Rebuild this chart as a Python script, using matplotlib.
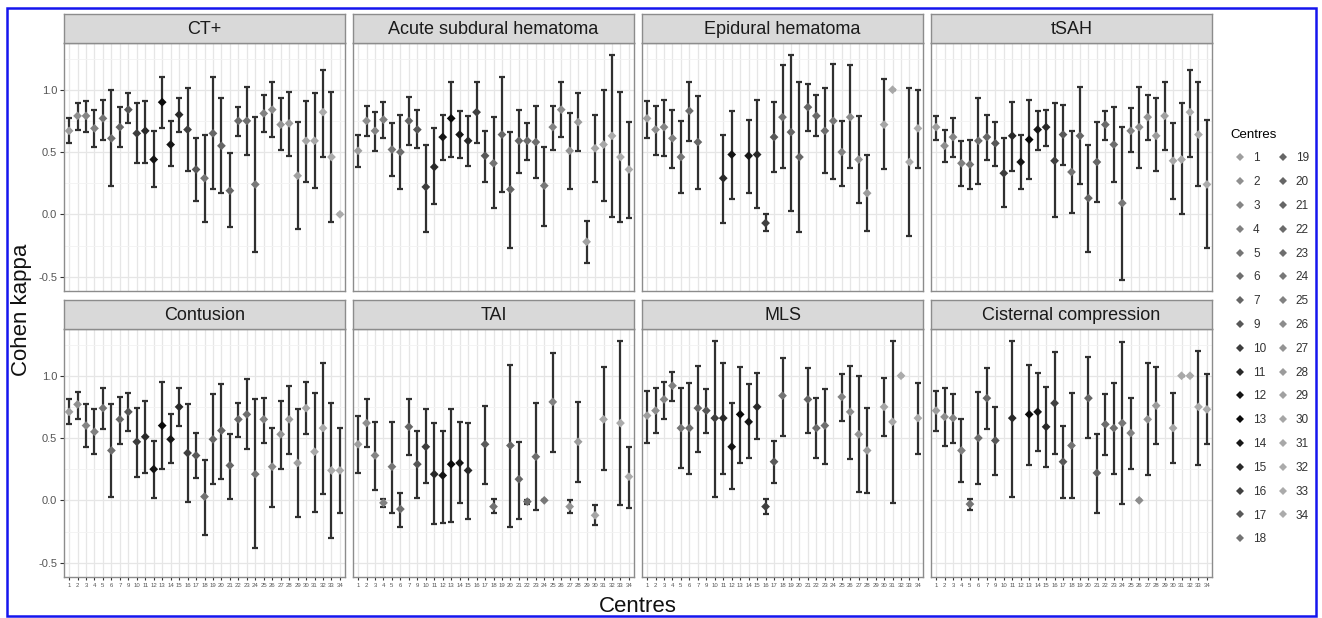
import numpy as np
import matplotlib
matplotlib.use("Agg")
import matplotlib.pyplot as plt
from matplotlib.lines import Line2D
from matplotlib.patches import Rectangle

plt.rcParams['font.family'] = ['Liberation Sans', 'DejaVu Sans']

nan = np.nan
centres = ['1', '2', '3', '4', '5', '6', '7', '9', '10', '11', '12', '13', '14', '15', '16', '17',
           '18', '19', '20', '21', '22', '23', '24', '25', '26', '27', '28', '29', '30', '31',
           '32', '33', '34']
centre_greys = [0.62, 0.56, 0.52, 0.50, 0.46, 0.43, 0.40, 0.34, 0.24, 0.16, 0.08, 0.04, 0.09, 0.16,
                0.25, 0.35, 0.45, 0.40, 0.40, 0.40, 0.42, 0.43, 0.47, 0.51, 0.55, 0.58, 0.61,
                0.63, 0.65, 0.66, 0.67, 0.67, 0.67]

titles = ['CT+', 'Acute subdural hematoma', 'Epidural hematoma', 'tSAH',
          'Contusion', 'TAI', 'MLS', 'Cisternal compression']

ct_est = [0.67, 0.79, 0.79, 0.69, 0.77, 0.61, 0.70, 0.84, 0.65, 0.67, 0.44, 0.90, 0.56, 0.80, 0.68, 0.36, 0.29,
          0.65, 0.55, 0.19, 0.75, 0.75, 0.24, 0.81, 0.84, 0.72, 0.73, 0.31, 0.59, 0.59, 0.82, 0.46, 0.0]
ct_lo = [0.57, 0.68, 0.66, 0.54, 0.60, 0.23, 0.54, 0.73, 0.41, 0.41, 0.22, 0.69, 0.39, 0.66, 0.35, 0.11, -0.06,
         0.20, 0.17, -0.10, 0.63, 0.48, -0.30, 0.66, 0.62, 0.52, 0.47, -0.12, 0.26, 0.21, 0.46, -0.06, 0.0]
ct_hi = [0.77, 0.89, 0.91, 0.84, 0.92, 1.00, 0.86, 0.97, 0.89, 0.91, 0.67, 1.10, 0.75, 0.93, 1.01, 0.61, 0.64,
         1.10, 0.93, 0.49, 0.86, 1.02, 0.78, 0.96, 1.06, 0.93, 0.98, 0.74, 0.91, 0.97, 1.16, 0.98, 0.0]

asdh_est = [0.51, 0.75, 0.67, 0.76, 0.52, 0.50, 0.75, 0.68, 0.22, 0.38, 0.62, 0.77, 0.64, 0.59, 0.82, 0.47, 0.41,
            0.64, 0.20, 0.59, 0.59, 0.58, 0.23, 0.70, 0.84, 0.51, 0.74, -0.22, 0.53, 0.56, 0.63, 0.46, 0.36]
asdh_lo = [0.38, 0.63, 0.51, 0.61, 0.31, 0.20, 0.56, 0.53, -0.14, 0.08, 0.44, 0.46, 0.45, 0.39, 0.57, 0.26, 0.05,
           0.18, -0.27, 0.33, 0.44, 0.29, -0.09, 0.52, 0.62, 0.20, 0.51, -0.39, 0.26, 0.11, -0.02, -0.06, -0.03]
asdh_hi = [0.64, 0.87, 0.82, 0.90, 0.73, 0.80, 0.94, 0.84, 0.56, 0.69, 0.80, 1.06, 0.83, 0.79, 1.06, 0.67, 0.78,
           1.10, 0.66, 0.84, 0.73, 0.87, 0.54, 0.87, 1.06, 0.81, 0.97, -0.05, 0.80, 1.00, 1.28, 0.98, 0.74]

edh_est = [0.77, 0.68, 0.70, 0.61, 0.46, 0.83, 0.58, nan, nan, 0.29, 0.48, nan, 0.47, 0.48, -0.07, 0.62, 0.78,
           0.66, 0.46, 0.86, 0.79, 0.67, 0.75, 0.50, 0.78, 0.44, 0.17, nan, 0.72, 1.0, nan, 0.42, 0.69]
edh_lo = [0.61, 0.48, 0.47, 0.37, 0.17, 0.59, 0.20, nan, nan, -0.07, 0.12, nan, 0.17, 0.05, -0.13, 0.34, 0.37,
          0.03, -0.14, 0.67, 0.63, 0.33, 0.28, 0.23, 0.37, 0.09, -0.13, nan, 0.36, 1.0, nan, -0.17, 0.37]
edh_hi = [0.91, 0.87, 0.92, 0.84, 0.75, 1.06, 0.95, nan, nan, 0.64, 0.83, nan, 0.76, 0.92, 0.00, 0.90, 1.20,
          1.28, 1.06, 1.05, 0.96, 1.01, 1.21, 0.75, 1.20, 0.79, 0.48, nan, 1.09, 1.0, nan, 1.01, 1.00]

tsah_est = [0.70, 0.55, 0.62, 0.41, 0.40, 0.59, 0.62, 0.57, 0.33, 0.63, 0.42, 0.60, 0.68, 0.70, 0.43, 0.64, 0.34,
            0.63, 0.13, 0.42, 0.72, 0.56, 0.09, 0.67, 0.70, 0.78, 0.63, 0.79, 0.43, 0.44, 0.82, 0.64, 0.24]
tsah_lo = [0.60, 0.42, 0.46, 0.23, 0.20, 0.24, 0.44, 0.39, 0.06, 0.35, 0.20, 0.28, 0.52, 0.55, -0.02, 0.40, 0.01,
           0.24, -0.30, 0.10, 0.60, 0.26, -0.53, 0.50, 0.37, 0.60, 0.35, 0.52, 0.12, 0.00, 0.46, 0.23, -0.27]
tsah_hi = [0.79, 0.68, 0.77, 0.59, 0.60, 0.93, 0.80, 0.74, 0.61, 0.90, 0.64, 0.92, 0.83, 0.84, 0.89, 0.88, 0.67,
           1.02, 0.56, 0.74, 0.83, 0.86, 0.70, 0.85, 1.02, 0.96, 0.93, 1.06, 0.73, 0.89, 1.16, 1.06, 0.76]

cont_est = [0.71, 0.77, 0.60, 0.55, 0.74, 0.40, 0.65, 0.71, 0.47, 0.51, 0.25, 0.60, 0.49, 0.75, 0.38, 0.36, 0.03,
            0.49, 0.56, 0.28, 0.65, 0.69, 0.21, 0.65, 0.27, 0.53, 0.65, 0.30, 0.74, 0.39, 0.58, 0.24, 0.24]
cont_lo = [0.61, 0.65, 0.43, 0.37, 0.57, 0.03, 0.45, 0.56, 0.19, 0.22, 0.02, 0.25, 0.30, 0.60, -0.01, 0.18, -0.28,
           0.13, 0.17, 0.01, 0.51, 0.41, -0.38, 0.46, -0.05, 0.25, 0.37, -0.13, 0.53, -0.09, 0.05, -0.30, -0.10]
cont_hi = [0.81, 0.87, 0.77, 0.73, 0.90, 0.77, 0.83, 0.86, 0.74, 0.80, 0.48, 0.95, 0.69, 0.90, 0.77, 0.54, 0.32,
           0.85, 0.93, 0.53, 0.78, 0.97, 0.81, 0.82, 0.58, 0.80, 0.92, 0.73, 0.95, 0.86, 1.10, 0.78, 0.58]

tai_est = [0.45, 0.62, 0.36, -0.02, 0.27, -0.07, 0.59, 0.29, 0.43, 0.21, 0.20, 0.29, 0.30, 0.24, nan, 0.45, -0.05,
           nan, 0.44, 0.17, -0.01, 0.35, 0.0, 0.79, nan, -0.05, 0.47, nan, -0.12, 0.65, nan, 0.62, 0.19]
tai_lo = [0.22, 0.43, 0.08, -0.05, -0.10, -0.21, 0.36, 0.02, 0.14, -0.19, -0.18, -0.17, -0.02, -0.15, nan, 0.13,
          -0.10, nan, -0.21, -0.15, -0.03, -0.08, 0.0, 0.39, nan, -0.10, 0.15, nan, -0.20, 0.24, nan, -0.04, -0.06]
tai_hi = [0.68, 0.81, 0.63, 0.01, 0.63, 0.06, 0.81, 0.56, 0.73, 0.62, 0.56, 0.73, 0.63, 0.62, nan, 0.76, 0.01,
          nan, 1.09, 0.47, 0.0, 0.78, 0.0, 1.18, nan, 0.0, 0.79, nan, -0.04, 1.07, nan, 1.28, 0.43]

mls_est = [0.68, 0.72, 0.81, 0.92, 0.58, 0.58, 0.74, 0.72, 0.66, 0.66, 0.43, 0.69, 0.63, 0.75, -0.05, 0.31, 0.84,
           nan, nan, 0.81, 0.58, 0.60, nan, 0.83, 0.71, 0.53, 0.40, nan, 0.75, 0.63, 1.0, nan, 0.66]
mls_lo = [0.46, 0.54, 0.65, 0.80, 0.26, 0.21, 0.39, 0.54, 0.03, 0.21, 0.09, 0.30, 0.34, 0.49, -0.11, 0.14, 0.52,
          nan, nan, 0.54, 0.34, 0.29, nan, 0.64, 0.33, 0.07, 0.06, nan, 0.52, -0.02, 1.0, nan, 0.37]
mls_hi = [0.88, 0.90, 0.95, 1.03, 0.90, 0.94, 1.08, 0.89, 1.28, 1.10, 0.78, 1.07, 0.93, 1.02, 0.01, 0.48, 1.14,
          nan, nan, 1.06, 0.82, 0.89, nan, 1.01, 1.08, 1.00, 0.74, nan, 0.98, 1.28, 1.0, nan, 0.94]

cc_est = [0.72, 0.67, 0.66, 0.40, -0.03, 0.50, 0.82, 0.48, nan, 0.66, nan, 0.69, 0.71, 0.59, 0.78, 0.31, 0.44,
          nan, 0.82, 0.22, 0.61, 0.58, 0.62, 0.54, 0.0, 0.65, 0.76, nan, 0.58, 1.0, 1.0, 0.75, 0.73]
cc_lo = [0.56, 0.44, 0.46, 0.15, -0.08, 0.13, 0.57, 0.20, nan, 0.03, nan, 0.28, 0.40, 0.27, 0.37, 0.02, 0.02,
         nan, 0.50, -0.10, 0.36, 0.21, -0.03, 0.25, 0.0, 0.20, 0.45, nan, 0.30, 1.0, 1.0, 0.28, 0.45]
cc_hi = [0.88, 0.90, 0.85, 0.65, 0.01, 0.87, 1.06, 0.75, nan, 1.28, nan, 1.09, 1.02, 0.91, 1.19, 0.60, 0.86,
         nan, 1.15, 0.53, 0.85, 0.94, 1.27, 0.82, 0.0, 1.10, 1.07, nan, 0.86, 1.0, 1.0, 1.20, 1.01]

panels = [(ct_est, ct_lo, ct_hi), (asdh_est, asdh_lo, asdh_hi), (edh_est, edh_lo, edh_hi),
          (tsah_est, tsah_lo, tsah_hi), (cont_est, cont_lo, cont_hi), (tai_est, tai_lo, tai_hi),
          (mls_est, mls_lo, mls_hi), (cc_est, cc_lo, cc_hi)]

W, H = 1322, 618
fig = plt.figure(figsize=(W / 100, H / 100), dpi=100)
lefts = [64, 353, 642, 931]
pw = 281
rows = [(43, 291, 14), (329, 577, 300)]
colors = [(g, g, g) for g in centre_greys]
x = np.arange(1, len(centres) + 1)
border = '#8c8c8c'

for i, title in enumerate(titles):
    r, c = divmod(i, 4)
    top, bot, stop = rows[r]
    ax = fig.add_axes([lefts[c] / W, 1 - bot / H, pw / W, (bot - top) / H])
    sax = fig.add_axes([lefts[c] / W, 1 - top / H, pw / W, (top - stop) / H])
    sax.set_facecolor('#D9D9D9')
    sax.set_xticks([]); sax.set_yticks([])
    for s in sax.spines.values():
        s.set_color(border); s.set_linewidth(1.0)
    sax.text(0.5, 0.45, title, ha='center', va='center', fontsize=13, color='#1a1a1a',
             transform=sax.transAxes)

    est, lo, hi = (np.array(a, dtype=float) for a in panels[i])
    ok = ~np.isnan(est)
    ax.errorbar(x[ok], est[ok], yerr=[est[ok] - lo[ok], hi[ok] - est[ok]], fmt='none',
                ecolor='#303030', elinewidth=1.6, capsize=2.3, capthick=1.6, zorder=3)
    ax.scatter(x[ok], est[ok], c=[colors[k] for k in np.where(ok)[0]], marker='D', s=20,
               linewidths=0, zorder=4)

    ax.set_xlim(0.4, len(centres) + 0.6)
    ax.set_ylim(-0.615, 1.375)
    ax.set_yticks([-0.5, 0.0, 0.5, 1.0])
    ax.set_yticks([-0.25, 0.25, 0.75, 1.25], minor=True)
    ax.set_xticks(x)
    ax.set_xticklabels(centres)
    ax.grid(which='major', color='#E6E6E6', lw=0.9)
    ax.grid(which='minor', axis='y', color='#F2F2F2', lw=0.6)
    ax.set_axisbelow(True)
    for s in ax.spines.values():
        s.set_color(border); s.set_linewidth(1.0)
    ax.tick_params(axis='both', which='minor', length=0)
    ax.tick_params(axis='x', which='major', labelsize=4.3, colors='#333333', labelcolor='#555555',
                   length=2.5, width=0.8, pad=1.5)
    ax.tick_params(axis='y', which='major', labelsize=8, colors='#333333', labelcolor='#555555',
                   length=3, width=0.8, pad=2)
    if r == 0:
        ax.tick_params(axis='x', length=0, labelbottom=False)
    if c != 0:
        ax.tick_params(axis='y', length=0, labelleft=False)
    else:
        ax.set_yticklabels(['-0.5', '0.0', '0.5', '1.0'])

fig.text(638 / W, 1 - 606 / H, 'Centres', ha='center', va='center', fontsize=16, color='#111111')
fig.text(22 / W, 1 - 310 / H, 'Cohen kappa', ha='center', va='center', rotation=90, fontsize=16,
         color='#111111')

handles = [Line2D([], [], marker='D', ls='none', markersize=4, markerfacecolor=col,
                  markeredgewidth=0) for col in colors]
leg = fig.legend(handles, centres, ncol=2, loc='upper left', bbox_to_anchor=(1220 / W, 1 - 118 / H),
                 frameon=False, title='Centres', fontsize=8.5, title_fontsize=9.5,
                 labelspacing=1.0, columnspacing=0.6, handletextpad=0.3, handlelength=1.6,
                 alignment='left')
for t in leg.get_texts():
    t.set_color('#333333')

fig.add_artist(Rectangle((7 / W, 2 / H), 1309 / W, 608 / H, transform=fig.transFigure,
                         fill=False, edgecolor='#1515ee', lw=1.8))

fig.savefig('out.png', dpi=100)
